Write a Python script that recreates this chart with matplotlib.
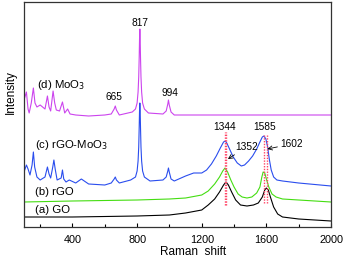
import matplotlib
matplotlib.use('Agg')
import matplotlib.pyplot as plt
from matplotlib.ticker import MultipleLocator

plt.rcParams['font.family'] = ['Liberation Sans', 'DejaVu Sans']

# Espectros (desplazamiento Raman, intensidad con offset)
go_x = [100, 400, 800, 1000, 1100, 1200, 1240, 1280, 1310, 1335, 1350, 1365, 1385, 1410,
        1440, 1480, 1520, 1550, 1575, 1590, 1600, 1612, 1625, 1645, 1670, 1700, 1800, 2000]
go_y = [10, 10, 11, 12, 14, 17, 22, 28, 35, 42, 45, 42, 35, 27, 22, 21, 22, 24, 30, 37,
        39, 37, 30, 20, 13, 10, 8, 6]

rgo_x = [100, 400, 800, 1000, 1100, 1200, 1240, 1280, 1310, 1330, 1344, 1360, 1380, 1400,
         1425, 1450, 1480, 1510, 1540, 1560, 1572, 1580, 1590, 1600, 1615, 1635, 1660,
         1700, 1800, 2000]
rgo_y = [25, 26, 27, 28, 29, 32, 36, 43, 50, 56, 59, 55, 47, 40, 33, 30, 29, 30, 34, 40,
         50, 55, 54, 48, 40, 33, 30, 28, 27, 25]

comp_x = [100, 115, 125, 137, 150, 158, 166, 180, 200, 230, 245, 255, 265, 278, 285, 293,
          305, 330, 338, 346, 360, 380, 420, 455, 500, 600, 640, 658, 665, 672, 690, 760,
          790, 800, 806, 810, 813, 815, 817, 819, 821, 824, 828, 834, 845, 880, 960, 980,
          990, 994, 999, 1010, 1030, 1100, 1150, 1200, 1230, 1260, 1290, 1315, 1335, 1345,
          1355, 1375, 1395, 1420, 1445, 1465, 1490, 1515, 1540, 1560, 1575, 1585, 1597,
          1608, 1618, 1630, 1645, 1665, 1700, 1800, 2000]
comp_y = [55, 62, 58, 52, 62, 75, 60, 50, 47, 50, 60, 53, 49, 60, 67, 58, 47, 49, 57, 48,
          45, 47, 44, 48, 43, 42, 44, 48, 50, 47, 44, 47, 50, 56, 66, 80, 100, 116, 124,
          116, 100, 80, 66, 56, 50, 46, 47, 50, 56, 59, 55, 48, 46, 51, 54, 54, 57, 63, 71,
          79, 85, 86, 84, 77, 70, 64, 61, 62, 66, 71, 78, 85, 90, 91, 88, 80, 68, 57, 50,
          47, 46, 44, 41]

moo3_x = [100, 115, 125, 132, 145, 158, 168, 180, 200, 230, 245, 255, 265, 280, 290, 300,
          320, 338, 352, 370, 385, 420, 500, 600, 640, 658, 665, 672, 690, 770, 790, 800,
          806, 810, 813, 815, 817, 819, 821, 824, 828, 834, 845, 870, 960, 980, 990, 994,
          999, 1010, 1030, 1100, 2000]
moo3_y = [127, 135, 118, 114, 124, 139, 124, 120, 122, 118, 131, 120, 116, 136, 124, 117,
          116, 125, 114, 118, 113, 112, 111, 112, 113, 118, 121, 117, 112, 115, 118, 124,
          135, 150, 170, 188, 198, 188, 170, 150, 135, 124, 118, 114, 113, 116, 123, 127,
          122, 115, 112, 112, 112]

# Lineas de referencia (posiciones de picos)
ref_lines = [1344, 1352, 1585, 1602]
ref_lo = [22, 22, 24, 24]
ref_hi = [95, 95, 92, 92]

fig = plt.figure(figsize=(3.46, 2.62), dpi=100)
ax = fig.add_axes([24 / 346, 35 / 262, 307 / 346, 225 / 262])

ax.plot(go_x, go_y, color='black', lw=0.8)
ax.plot(rgo_x, rgo_y, color='#44dd11', lw=0.8)
ax.plot(comp_x, comp_y, color='#2a4dee', lw=0.8)
ax.plot(moo3_x, moo3_y, color='#cc44ee', lw=0.8)

for xv, lo, hi in zip(ref_lines, ref_lo, ref_hi):
    ax.plot([xv, xv], [lo, hi], color='#ff4466', ls=(0, (1, 1)), lw=1.0)

fs = 7.3
ax.text(817, 204, '817', ha='center', va='center', fontsize=fs)
ax.text(658, 130, '665', ha='center', va='center', fontsize=fs)
ax.text(1005, 134, '994', ha='center', va='center', fontsize=fs)
ax.text(1341, 100, '1344', ha='center', va='center', fontsize=fs)
ax.text(1589, 100, '1585', ha='center', va='center', fontsize=fs)
ax.annotate('1352', xy=(1362, 68), xytext=(1477, 80), ha='center', va='center', fontsize=fs,
            arrowprops=dict(arrowstyle='->', color='black', lw=0.6, shrinkA=8, shrinkB=0))
ax.annotate('1602', xy=(1606, 78), xytext=(1755, 83), ha='center', va='center', fontsize=fs,
            arrowprops=dict(arrowstyle='->', color='black', lw=0.6, shrinkA=10, shrinkB=0))

fl = 8.2
ax.text(178, 142, '(d) MoO$_3$', ha='left', va='center', fontsize=fl)
ax.text(168, 82, '(c) rGO-MoO$_3$', ha='left', va='center', fontsize=fl)
ax.text(168, 35, '(b) rGO', ha='left', va='center', fontsize=fl)
ax.text(168, 17, '(a) GO', ha='left', va='center', fontsize=fl)

ax.set_xlim(100, 2000)
ax.set_ylim(0, 225)
ax.xaxis.set_major_locator(MultipleLocator(400))
ax.xaxis.set_minor_locator(MultipleLocator(200))
ax.set_yticks([])
ax.tick_params(axis='x', which='major', direction='in', length=3, width=0.8,
               labelsize=7.8, pad=6)
ax.tick_params(axis='x', which='minor', direction='in', length=2, width=0.8)
for sp in ax.spines.values():
    sp.set_linewidth(0.9)
    sp.set_color('#333333')

ax.set_xlabel('Raman  shift', fontsize=8.5)
ax.xaxis.set_label_coords(0.55, -0.085)
ax.set_ylabel('Intensity', fontsize=8.5)
ax.yaxis.set_label_coords(-0.022, 0.60)

fig.savefig('out.png', dpi=100)
